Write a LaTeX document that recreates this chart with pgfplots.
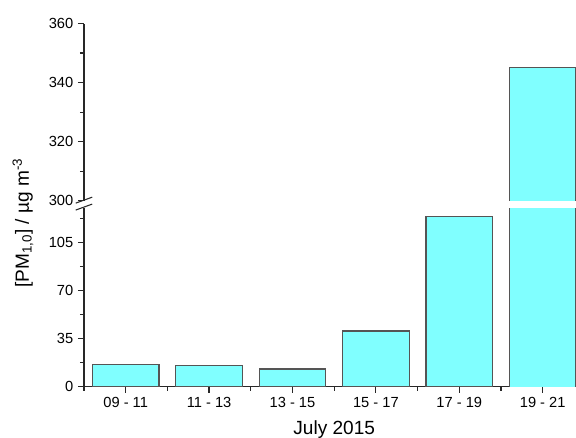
\documentclass[border=0pt]{standalone}
\usepackage{pgfplots}
\usepackage{pgfplotstable}
\pgfplotsset{compat=1.18}
\usepackage{fontspec}
\setmainfont{Liberation Sans}

\definecolor{barfill}{RGB}{128,255,255}
\definecolor{baredge}{RGB}{85,85,85}
\definecolor{axisgray}{RGB}{40,40,40}

% PM1.0 mass concentration per two-hour interval
\pgfplotstableread{
idx value
0   16.0
1   15.3
2   12.9
3   40.5
4   123.6
5   345.0
}\pmdata

% outline of the tall last bar (left edge, top, right edge), drawn open
% at the bottom so the break in the axis leaves a clean gap
\pgfplotstableread{
x   y
4.6 0
4.6 345.0
5.4 345.0
5.4 0
}\tallbar

\pgfplotsset{
  brokenaxis/.style={
    scale only axis,
    width=375.3pt,
    xmin=-0.5, xmax=5.5,
    axis line style={axisgray, line width=0.9pt},
    every tick/.style={axisgray, line width=0.9pt},
    tick label style={font=\fontsize{11}{13}\selectfont},
    /pgf/number format/assume math mode=true,
    tick align=outside,
    major tick length=4.5pt,
    minor tick length=3pt,
  },
  pmbars/.style={ybar, bar width=0.8, fill=barfill, draw=baredge, line width=0.9pt},
  tallfill/.style={ybar, bar width=0.8, fill=barfill, draw=none},
  talledge/.style={sharp plot, no marks, draw=baredge, line width=0.9pt},
}

\begin{document}
\begin{tikzpicture}
\path[use as bounding box] (0,0) rectangle (432pt,327.75pt);

% lower segment: 0 to 130
\begin{axis}[brokenaxis,
  at={(63pt,37.7pt)}, anchor=south west,
  height=133.8pt,
  ymin=0, ymax=129.7,
  axis x line*=bottom, axis y line*=left,
  xtick={0,...,5},
  xticklabels={09 - 11, 11 - 13, 13 - 15, 15 - 17, 17 - 19, 19 - 21},
  minor xtick={-0.5,0.5,1.5,2.5,3.5,4.5},
  ytick={0,35,70,105},
  minor ytick={17.5,52.5,87.5,122.5},
  xlabel={July 2015},
  xlabel style={font=\fontsize{14.3}{16}\selectfont, yshift=-2.5pt},
]
\addplot[pmbars, restrict x to domain=0:4] table[x=idx, y=value] {\pmdata};
\addplot[tallfill, restrict x to domain=5:5] table[x=idx, y=value] {\pmdata};
\addplot[talledge] table[x=x, y=y] {\tallbar};
\end{axis}

% upper segment: 300 to 360
\begin{axis}[brokenaxis,
  at={(63pt,177.2pt)}, anchor=south west,
  height=132.9pt,
  ymin=300, ymax=360,
  axis x line=none, axis y line*=left,
  xtick=\empty,
  ytick={300,320,340,360},
  minor ytick={310,330,350},
]
\addplot[tallfill, restrict x to domain=5:5] table[x=idx, y=value] {\pmdata};
\addplot[talledge] table[x=x, y=y] {\tallbar};
\end{axis}

% break marks on the y axis
\draw[axisgray, line width=0.8pt] (56.8pt,175.4pt) -- (69.2pt,179.9pt);
\draw[axisgray, line width=0.8pt] (56.8pt,170.2pt) -- (69.2pt,174.7pt);

\node[rotate=90, font=\fontsize{14.3}{16}\selectfont] at (17.25pt,160.5pt)
  {[PM\textsubscript{1,0}] / µg m\textsuperscript{-3}};
\end{tikzpicture}
\end{document}
